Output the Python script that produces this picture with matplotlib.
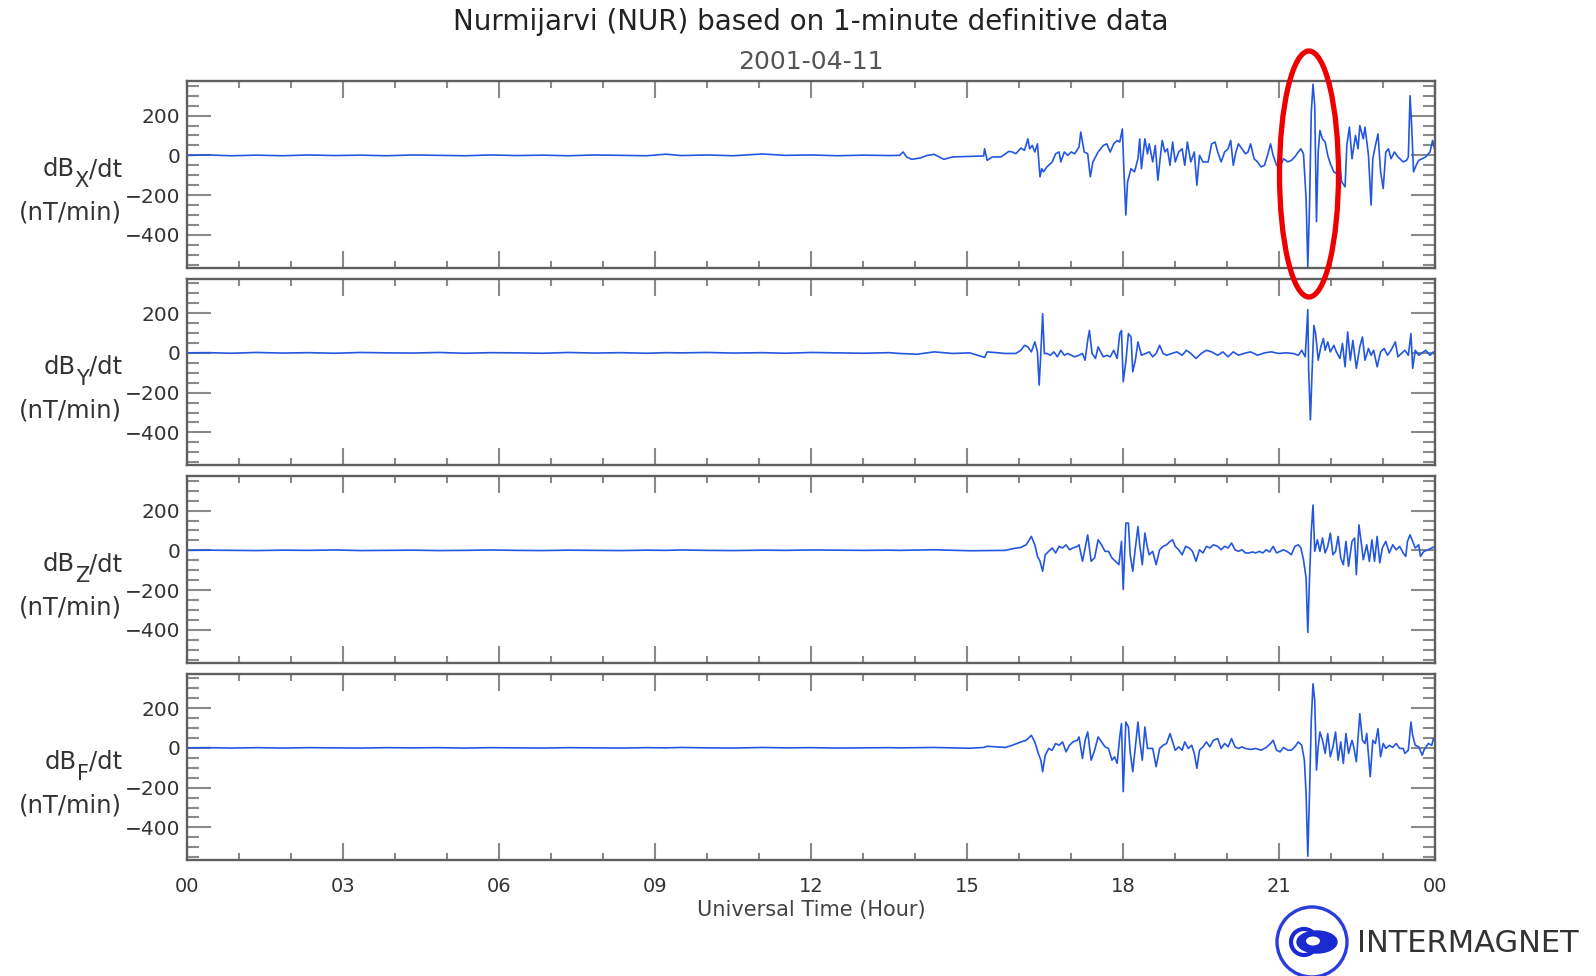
import matplotlib
matplotlib.use("Agg")
import matplotlib.pyplot as plt
from matplotlib.ticker import MultipleLocator, FuncFormatter
from matplotlib.patches import Ellipse, Circle

plt.rcParams['font.family'] = ['DejaVu Sans']

# ---------------- data (minutes of day, nT/min) ----------------
quiet_t = [0, 25, 50, 80, 110, 140, 170, 200, 230, 260, 290, 320, 350, 380, 410,
           440, 470, 500, 530, 552, 570, 600, 630, 664, 690, 720, 750, 780, 810]

t_x = quiet_t + [
    822, 826, 830, 836, 846, 854, 862, 873, 883, 903, 919, 920, 923, 929, 939, 948, 952, 956,
    962, 966, 970, 972, 975, 978, 981, 984, 986, 988, 992, 998, 1002, 1006, 1008, 1012, 1016,
    1020, 1024, 1029, 1031, 1035, 1039, 1042, 1045, 1051, 1057, 1061, 1065, 1069, 1073, 1076,
    1079, 1081, 1083, 1085, 1089, 1093, 1097, 1099, 1101, 1105, 1108, 1110, 1114, 1117, 1120,
    1123, 1125, 1128, 1131, 1134, 1137, 1140, 1144, 1148, 1151, 1154, 1158, 1162, 1165, 1168,
    1172, 1178, 1182, 1186, 1189, 1193, 1197, 1201, 1204, 1207, 1210, 1213, 1217, 1221, 1224,
    1227, 1231, 1235, 1239, 1243, 1247, 1250, 1253, 1257, 1261, 1265, 1270, 1274, 1278, 1282,
    1285, 1288, 1291, 1293, 1295, 1297, 1299, 1301, 1303, 1305, 1307, 1310, 1313, 1316, 1319,
    1323, 1326, 1329, 1332, 1336, 1338, 1341, 1344, 1348, 1351, 1353, 1357, 1359, 1363, 1366,
    1368, 1371, 1374, 1377, 1380, 1383, 1386, 1389, 1393, 1397, 1403, 1407, 1409, 1411, 1413,
    1415, 1418, 1421, 1425, 1429, 1434, 1437, 1440]
v_x = [0, 2, -2, 1, -2, 2, -1, 1, -2, 2, 0, -2, 2, -1, 1, -2, 2, 0, -2, 6, -1, 2, -2, 7, 0, 2, -2, 1, -1] + [
    0, 17, -8, -20, -13, 0, 5, -20, -8, -5, -3, 33, -25, -8, -8, 20, 17, 8,
    37, 25, 83, 33, 50, 17, 58, -108, -67, -83, -58, -33, 8, 17, -33, 17, 0,
    17, 8, 42, 117, 17, 8, -108, -33, 17, 50, 58, 17, 58, 75, 67,
    133, -100, -300, -133, -67, -83, -17, 83, -67, 83, 8, 58, -33, 50, -125,
    0, 75, 17, 33, -50, 67, -33, 17, 33, -50, 67, -33, 17, -150, 0,
    -33, -33, 58, 67, 17, -33, 17, 33, 75, -50, 17, 58, 33, 8, 17,
    58, -17, -33, -58, -50, 8, 58, 0, -50, -58, -17, -33, -25, -8, 17,
    33, 8, -217, -560, -250, 217, 358, 250, -333, 17, 125, 83, 67, 0, -42,
    -83, -92, 0, -133, -158, 50, 142, -17, 100, 33, 150, 83, 142, 0, -250,
    -17, 50, 108, -83, -167, 17, 33, -17, 17, -8, -33, -25, -8, 300, 133,
    -83, -50, -25, -17, -8, 17, 75, 17]

t_y = quiet_t + [
    822, 842, 862, 883, 903, 920, 923, 944, 956, 962, 966, 970, 974, 978, 981, 983, 985, 987,
    989, 992, 996, 1000, 1004, 1008, 1012, 1016, 1020, 1024, 1029, 1033, 1036, 1039, 1041,
    1044, 1048, 1051, 1054, 1057, 1061, 1065, 1069, 1073, 1076, 1078, 1080, 1083, 1086, 1089,
    1091, 1094, 1097, 1101, 1106, 1110, 1114, 1118, 1122, 1126, 1130, 1136, 1142, 1148, 1153,
    1158, 1164, 1170, 1176, 1182, 1189, 1195, 1201, 1207, 1213, 1219, 1227, 1235, 1243, 1251,
    1259, 1268, 1276, 1282, 1286, 1290, 1293, 1294, 1296, 1298, 1300, 1302, 1305, 1308, 1311,
    1313, 1316, 1319, 1323, 1326, 1330, 1333, 1336, 1339, 1342, 1345, 1349, 1353, 1356, 1359,
    1363, 1366, 1369, 1373, 1377, 1381, 1385, 1389, 1394, 1397, 1401, 1405, 1409, 1412, 1414,
    1417, 1421, 1425, 1429, 1434, 1438, 1440]
v_y = [0, 1, -2, 2, -1, 1, -2, 2, 0, -1, 2, -2, 1, 0, -2, 2, -1, 1, -2, 1, 0, 2, -1, 1, -2, 2, 0, -2, 1] + [
    -3, -7, 5, -3, 0, -23, 5, -3, -3, 13, 38, 30, 5, 55, 5, -162, 5, 197,
    -3, -3, -12, 5, -20, 13, -12, -3, -12, -20, -12, -3, -37, 63, 113,
    -3, -28, 30, 5, -20, -12, -20, 13, -28, 97, 113, -145, -45, 97, 80,
    -95, -37, 55, -12, -3, 5, -20, -3, 38, -3, -12, -3, 5, -12, 13,
    -3, -28, -3, 13, 5, -12, 5, -20, 5, -12, -3, 5, -12, 0, 5,
    -3, 0, -3, -12, 13, -20, 217, -87, -337, -87, 138, 97, -37, 30, 72,
    13, 55, 5, 38, 5, -28, 47, -70, 105, -37, 63, -78, 30, 80, -37,
    22, -12, 13, -70, 5, 22, -12, 13, 55, -20, -3, 13, -12, 97, -78,
    13, -12, 0, 13, -12, 5, -20]

t_z = quiet_t + [
    822, 862, 903, 944, 952, 962, 968, 974, 978, 981, 984, 987, 990, 994, 998, 1002, 1006,
    1010, 1014, 1018, 1022, 1027, 1029, 1033, 1036, 1039, 1043, 1047, 1051, 1055, 1059, 1063,
    1067, 1071, 1075, 1078, 1080, 1083, 1086, 1088, 1091, 1094, 1097, 1099, 1102, 1105, 1108,
    1110, 1114, 1118, 1122, 1126, 1130, 1134, 1137, 1140, 1144, 1148, 1152, 1156, 1160, 1164,
    1168, 1172, 1176, 1180, 1184, 1189, 1193, 1197, 1201, 1205, 1209, 1213, 1217, 1221, 1225,
    1229, 1233, 1237, 1241, 1245, 1249, 1253, 1257, 1261, 1265, 1270, 1274, 1278, 1282, 1285,
    1288, 1291, 1293, 1295, 1297, 1299, 1301, 1304, 1307, 1310, 1313, 1316, 1319, 1322, 1325,
    1328, 1331, 1334, 1337, 1340, 1344, 1347, 1349, 1352, 1355, 1357, 1361, 1364, 1367, 1370,
    1373, 1376, 1379, 1383, 1387, 1391, 1395, 1399, 1403, 1406, 1408, 1411, 1414, 1417, 1421,
    1423, 1427, 1432, 1436, 1440]
v_z = [0, 1, 0, -1, 1, 0, 2, -1, 0, 1, -1, 0, 2, 0, -1, 1, 0, -1, 1, 0, 2, 0, -1, 1, 0, 2, 1, 0, 1] + [
    0, 3, -2, 0, 8, 15, 28, 70, 28, -30, -55, -105, -22, -5, 12, -13, 20,
    12, 28, 3, 12, 20, 28, -55, 12, 78, -55, -38, 53, 28, -5, -5,
    -38, -55, -72, 45, -197, 137, 137, -22, -105, 12, 120, 28, -72, 87, 12,
    -22, -5, -72, 3, 20, 28, 45, 53, 20, 3, -22, 20, 12, -5, -55,
    3, -13, 20, 12, 28, 20, 3, 20, 12, 37, 3, -5, 3, -13, -13,
    -8, -13, -5, -13, 3, -8, 20, -13, -5, 3, -8, -22, 20, 28, 12,
    -47, -138, -413, -138, 95, 228, -5, 53, -5, 62, -13, 20, 87, -22, -5,
    70, -38, -72, 45, -80, 45, 62, -122, 128, 28, -47, 28, -55, 53, -55,
    70, -63, 12, 45, -13, 28, 3, 20, -13, -30, 45, 78, 45, 12, 28,
    -30, -5, 3, 12, 20]

t_f = quiet_t + [
    822, 862, 903, 919, 923, 944, 952, 962, 968, 974, 978, 982, 985, 987, 990, 994, 998, 1002,
    1006, 1010, 1014, 1018, 1022, 1027, 1029, 1033, 1036, 1039, 1043, 1047, 1051, 1055, 1059,
    1063, 1067, 1070, 1073, 1076, 1078, 1080, 1083, 1086, 1088, 1091, 1094, 1097, 1099, 1102,
    1105, 1108, 1110, 1114, 1118, 1122, 1126, 1130, 1134, 1137, 1140, 1144, 1148, 1151, 1155,
    1159, 1162, 1165, 1168, 1172, 1176, 1180, 1184, 1189, 1193, 1197, 1201, 1205, 1209, 1213,
    1217, 1221, 1227, 1233, 1239, 1245, 1250, 1253, 1257, 1261, 1265, 1270, 1274, 1278, 1282,
    1286, 1289, 1291, 1293, 1295, 1297, 1299, 1301, 1303, 1305, 1307, 1310, 1313, 1316, 1319,
    1322, 1325, 1328, 1331, 1334, 1337, 1340, 1344, 1346, 1349, 1353, 1356, 1359, 1361, 1365,
    1368, 1371, 1374, 1377, 1380, 1383, 1387, 1391, 1395, 1399, 1403, 1405, 1409, 1412, 1414,
    1417, 1421, 1425, 1427, 1432, 1436, 1438, 1440]
v_f = [0, 1, -1, 1, -1, 1, 0, -1, 1, 0, 1, -1, 1, 0, -1, 1, 0, -1, 1, 0, 2, 0, -1, 2, 0, 1, -1, 0, 1] + [
    0, 2, -2, 2, 8, 2, 13, 30, 38, 63, 30, -28, -62, -120, -37, -3, -12, 22,
    13, 30, -20, 13, 30, 38, 55, -53, 38, 80, -62, -12, 55, 30, 5,
    -3, -62, -45, -78, 55, 122, -220, 130, 105, -20, -120, 5, 130, 38, -62,
    105, -3, -3, -3, -95, -3, 13, 22, 72, 30, -12, 5, -12, 30, -3,
    13, -28, -103, -12, 5, 30, 5, 38, 47, -3, 22, 5, 47, 5, -3,
    5, -3, -8, -3, -12, 2, 22, 38, -12, -20, 2, -12, -12, 5, 30,
    13, -62, -228, -545, -228, 138, 322, 238, -112, 5, 80, 38, -28, 72, -45,
    5, 80, -62, 30, -78, 72, -28, 38, 5, -70, 172, 38, 22, 72, -145,
    38, 22, 97, -45, 22, -3, 13, 2, 22, -3, -3, -28, -12, 130, 63,
    13, 5, -37, -12, 22, 13, 47, 30]

components = ['X', 'Y', 'Z', 'F']
series_t = [t_x, t_y, t_z, t_f]
series_v = [v_x, v_y, v_z, v_f]
hour_labels = ['00', '03', '06', '09', '12', '15', '18', '21', '00']

# ---------------- figure ----------------
W, H = 1596, 976
fig = plt.figure(figsize=(W / 100, H / 100), dpi=100)
renderer = fig.canvas.get_renderer()

left, width = 187.3 / W, (1435.2 - 187.3) / W
tops = [81.4, 278.9, 476.4, 673.9]
ph = 186.3
line_col = '#2457e0'
frame_col = '#5f5f5f'
tick_col = '#8a8a8a'
txt_col = '#333333'
lab_fs = 17.5


def fy(px):
    """figure pixel row (from top) -> figure fraction"""
    return 1 - px / H


axes = []
for i, (comp, tt, vv) in enumerate(zip(components, series_t, series_v)):
    ax = fig.add_axes([left, 1 - (tops[i] + ph) / H, width, ph / H])
    axes.append(ax)
    ax.plot([t / 60 for t in tt], vv, color=line_col, lw=1.2)
    ax.set_xlim(0, 24)
    ax.set_ylim(-565, 372)
    ax.xaxis.set_major_locator(MultipleLocator(3))
    ax.xaxis.set_minor_locator(MultipleLocator(1))
    ax.yaxis.set_major_locator(MultipleLocator(200))
    ax.yaxis.set_minor_locator(MultipleLocator(50))
    ax.tick_params(axis='both', which='both', direction='in', color=tick_col,
                   top=True, right=True, width=1.5)
    ax.tick_params(axis='y', which='major', length=17, labelsize=14.5,
                   labelcolor=txt_col, pad=5)
    ax.tick_params(axis='y', which='minor', length=8.5)
    ax.tick_params(axis='x', which='major', length=12)
    ax.tick_params(axis='x', which='minor', length=5)
    for s in ax.spines.values():
        s.set_color(frame_col)
        s.set_linewidth(1.7)
    if i < 3:
        ax.tick_params(axis='x', labelbottom=False)
    else:
        ax.xaxis.set_major_formatter(FuncFormatter(
            lambda x, p: hour_labels[int(round(x / 3))] if 0 <= round(x / 3) < len(hour_labels) else ''))
        ax.tick_params(axis='x', which='major', labelsize=14, labelcolor=txt_col, pad=12)

    # y label: "dB" + lowered component letter + "/dt", then "(nT/min)"
    ycen = tops[i] + ph / 2
    base = ycen + 1.5
    t3 = fig.text(122 / W, fy(base), '/dt', ha='right', va='baseline',
                  fontsize=lab_fs, color=txt_col)
    bb3 = t3.get_window_extent(renderer)
    t2 = fig.text(bb3.x0 / W, fy(base + 11), comp, ha='right', va='baseline',
                  fontsize=lab_fs - 2.5, color=txt_col)
    bb2 = t2.get_window_extent(renderer)
    fig.text(bb2.x0 / W, fy(base), 'dB', ha='right', va='baseline',
             fontsize=lab_fs, color=txt_col)
    fig.text(122 / W, fy(ycen + 38), '(nT/min)', ha='right', va='center',
             fontsize=lab_fs, color=txt_col)

axes[-1].set_xlabel('Universal Time (Hour)', fontsize=15, color='#444444', labelpad=3)

fig.text(811 / W, fy(22.5), 'Nurmijarvi (NUR) based on 1-minute definitive data',
         ha='center', va='center', fontsize=20, color='#222222')
fig.text(811 / W, fy(62), '2001-04-11', ha='center', va='center',
         fontsize=18, color='#555555')

# red highlight ellipse
fig.add_artist(Ellipse((13.09, (H - 174) / 100), 0.59, 2.46, transform=fig.dpi_scale_trans,
                       fill=False, edgecolor='#ee0000', lw=3.8, clip_on=False))

# INTERMAGNET logo
cx, cy = 13.12, (H - 942) / 100
fig.add_artist(Circle((cx, cy), 0.35, transform=fig.dpi_scale_trans, fill=False,
                      edgecolor='#2a3be0', lw=2.4))
fig.add_artist(Ellipse((cx - 0.08, cy), 0.26, 0.26, transform=fig.dpi_scale_trans, fill=False,
                       edgecolor='#1a2ad0', lw=3.0))
fig.add_artist(Ellipse((cx + 0.05, cy), 0.40, 0.22, transform=fig.dpi_scale_trans,
                       facecolor='#1a2ad0', edgecolor='#1a2ad0', lw=1))
fig.add_artist(Ellipse((cx + 0.01, cy + 0.01), 0.14, 0.09, transform=fig.dpi_scale_trans,
                       facecolor='white', edgecolor='white', lw=0))
fig.text(1357 / W, fy(944), 'INTERMAGNET', ha='left', va='center',
         fontsize=22, color='#333333')

fig.savefig('out.png', dpi=100, facecolor='white')
